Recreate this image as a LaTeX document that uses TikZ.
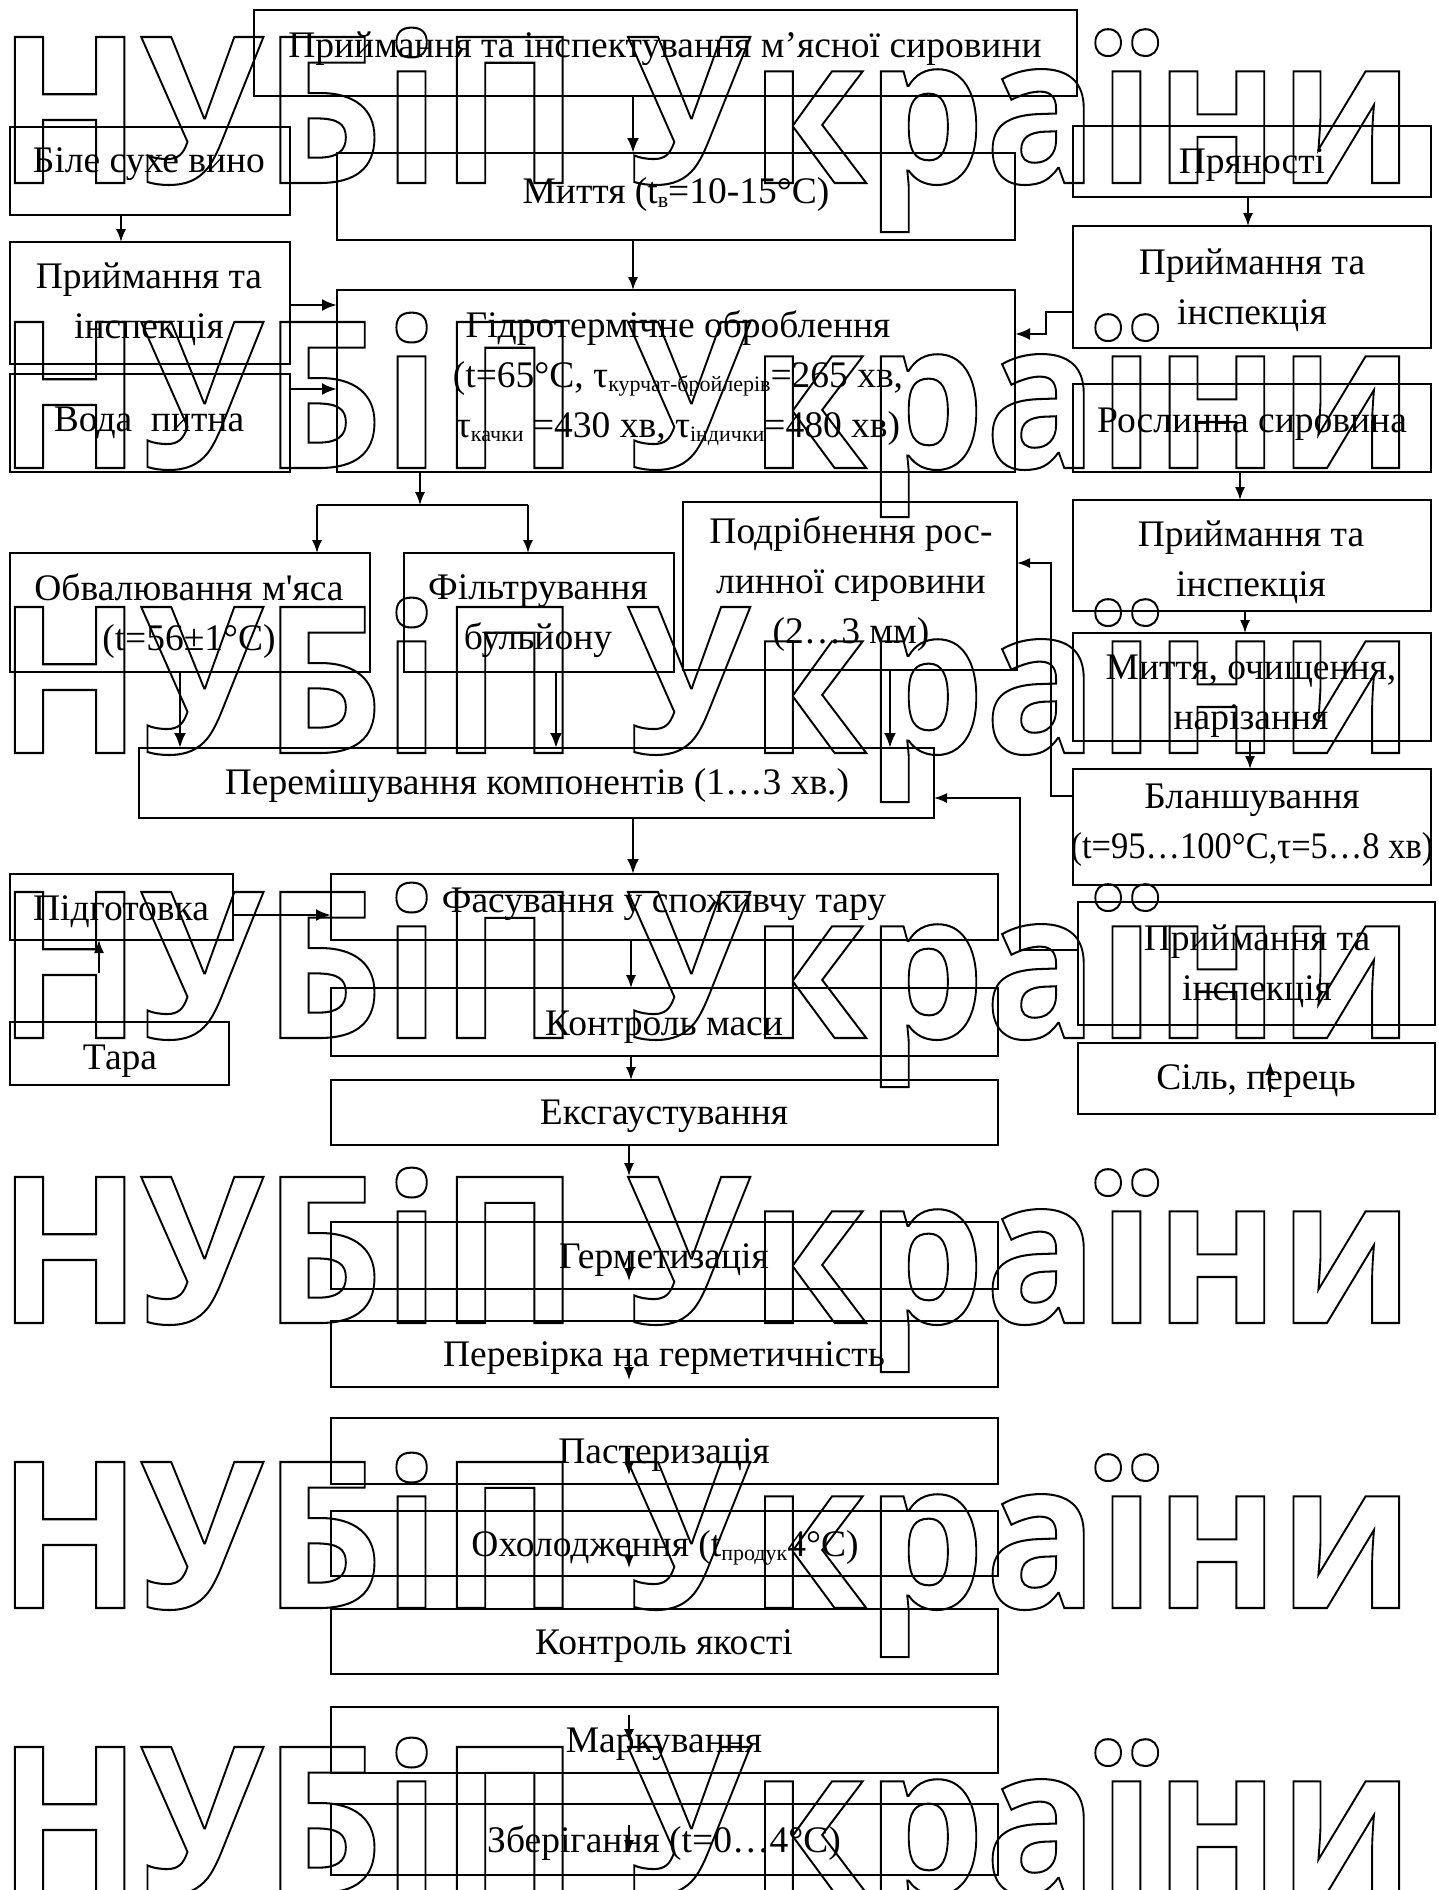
\documentclass[tikz,border=0pt]{standalone}
\usepackage{fontspec}
\setmainfont{Liberation Serif}[Ligatures=TeXOff]
\newfontfamily\wmfont{Open Sans}[Ligatures=TeXOff]
\usetikzlibrary{arrows.meta,fit}
\newcommand\sbs[1]{\raisebox{-0.12em}{\fontsize{22}{22}\selectfont #1}}
\newsavebox\wmbox
\newlength\wmcap
\newlength\wmwd
\tikzset{
  box/.style={draw, line width=1.6pt, inner sep=0pt, outer sep=0pt},
  txt/.style={inner sep=0pt, align=center, yshift=-4pt, font=\fontsize{37.5}{50}\selectfont},
  ar/.style={line width=1.6pt, -{Latex[length=13pt,width=10pt]}},
  art/.style={line width=2.6pt, -{Latex[length=15pt,width=12pt]}},
  ln/.style={line width=1.6pt},
  wm/.style={inner sep=0pt, outer sep=0pt, anchor=base west},
}
\begin{document}%
\sbox\wmbox{\wmfont\bfseries\fontsize{200}{200}\selectfont НУБіП України}%
\settoheight\wmcap{\wmfont\bfseries\fontsize{200}{200}\selectfont Н}%
\setlength\wmwd{\wd\wmbox}%
\pgfmathsetmacro\wmxs{1416/\wmwd}%
\pgfmathsetmacro\wmys{146/\wmcap}%
\begin{tikzpicture}[x=1pt,y=-1pt]
\useasboundingbox (0,0) rectangle (1439,1890);
% ---------- boxes ----------
\node[box, fit={(254,10)(1077,96)}] (B1) {};
\node[box, fit={(337,153)(1015,240)}] (B2) {};
\node[box, fit={(10,127)(290,215)}] (B3) {};
\node[box, fit={(10,242)(290,364)}] (B4) {};
\node[box, fit={(10,374)(290,472)}] (B5) {};
\node[box, fit={(337,290)(1015,472)}] (B6) {};
\node[box, fit={(1073,126)(1431,197)}] (B7) {};
\node[box, fit={(1073,226)(1431,348)}] (B8) {};
\node[box, fit={(1073,384)(1431,472)}] (B9) {};
\node[box, fit={(1073,500)(1431,611)}] (B10) {};
\node[box, fit={(1073,633)(1431,741)}] (B11) {};
\node[box, fit={(1073,769)(1431,885)}] (B12) {};
\node[box, fit={(683,502)(1017,670)}] (B13) {};
\node[box, fit={(139,748)(934,818)}] (B14) {};
\node[box, fit={(10,553)(370,672)}] (B15) {};
\node[box, fit={(404,553)(674,672)}] (B16) {};
\node[box, fit={(10,874)(233,940)}] (B17) {};
\node[box, fit={(10,1022)(229,1085)}] (B18) {};
\node[box, fit={(331,874)(998,940)}] (B19) {};
\node[box, fit={(331,988)(998,1056)}] (B20) {};
\node[box, fit={(331,1080)(998,1145)}] (B21) {};
\node[box, fit={(331,1222)(998,1289)}] (B22) {};
\node[box, fit={(331,1321)(998,1387)}] (B23) {};
\node[box, fit={(331,1418)(998,1484)}] (B24) {};
\node[box, fit={(331,1511)(998,1576)}] (B25) {};
\node[box, fit={(331,1609)(998,1674)}] (B26) {};
\node[box, fit={(331,1707)(998,1773)}] (B27) {};
\node[box, fit={(331,1804)(998,1875)}] (B28) {};
\node[box, fit={(1078,1043)(1435,1114)}] (B29) {};
\node[box, fit={(1078,902)(1435,1025)}] (B30) {};
% ---------- texts ----------
\node[txt] (t1) at (665,45) {Приймання та інспектування м’ясної сировини};
\node[txt] (t2) at (676,190) {Миття (t\sbs{в}=10-15°C)};
\node[txt] (t3) at (149,160) {Біле сухе вино};
\node[txt] (t4) at (149,300) {Приймання та\\інспекція};
\node[txt] (t5) at (149,419) {Вода\ \ питна};
\node[txt] (t6) at (678,374) {Гідротермічне оброблення\\(t=65°C, τ\sbs{курчат-бройлерів}=265 хв,\\τ\sbs{качки} =430 хв, τ\sbs{індички}=480 хв)};
\node[txt] (t7) at (1252,161) {Пряності};
\node[txt] (t8) at (1252,286) {Приймання та\\інспекція};
\node[txt] (t9) at (1252,420) {Рослинна сировина};
\node[txt] (t10) at (1251,558) {Приймання та\\інспекція};
\node[txt] (t11) at (1251,692) {Миття, очищення,\\нарізання};
\node[txt] (t12) at (1252,821) {Бланшування\\\scalebox{0.92}[1]{(t=95…100°C,τ=5…8 хв)}};
\node[txt] (t13) at (851,580) {Подрібнення рос-\\линної сировини\\(2…3 мм)};
\node[txt] (t14) at (537,782) {Перемішування компонентів (1…3 хв.)};
\node[txt] (t15) at (189,612) {Обвалювання м'яса\\(t=56±1°С)};
\node[txt] (t16) at (538,612) {Фільтрування\\бульйону};
\node[txt] (t17) at (121,908) {Підготовка};
\node[txt] (t18) at (120,1057) {Тара};
\node[txt] (t19) at (664,900) {Фасування у споживчу тару};
\node[txt] (t20) at (664,1023) {Контроль маси};
\node[txt] (t21) at (664,1112) {Ексгаустування};
\node[txt] (t22) at (664,1256) {Герметизація};
\node[txt] (t23) at (664,1354) {Перевірка на герметичність};
\node[txt] (t24) at (664,1451) {Пастеризація};
\node[txt] (t25) at (665,1544) {Охолодження (t\sbs{продук}4°С)};
\node[txt] (t26) at (664,1642) {Контроль якості};
\node[txt] (t27) at (664,1740) {Маркування};
\node[txt] (t28) at (664,1839) {Зберігання (t=0…4°С)};
\node[txt] (t29) at (1256,1077) {Сіль, перець};
\node[txt] (t30) at (1257,962) {Приймання та\\інспекція};
% ---------- connectors ----------
\draw[art] (633,0 |- B1.south) -- (633,0 |- B2.north);
\draw[ar] (633,0 |- B2.south) -- (633,0 |- B6.north);
\draw[ar] (121,0 |- B3.south) -- (121,0 |- B4.north);
\draw[art] (B4.east |- 0,305) -- (B6.west |- 0,305);
\draw[art] (B5.east |- 0,389) -- (B6.west |- 0,389);
\draw[ar] (1248,0 |- B7.south) -- (1248,0 |- B8.north);
\draw[art] (B8.west |- 0,312) -- (1046,312) -- (1046,334) -- (B6.east |- 0,334);
\draw[ar] (1240,0 |- B9.south) -- (1240,0 |- B10.north);
\draw[ar] (1245,0 |- B10.south) -- (1245,0 |- B11.north);
\draw[ar] (1250,0 |- B11.south) -- (1250,0 |- B12.north);
\coordinate (sp) at (420,505);
\coordinate (sL) at (317,505);
\coordinate (sR) at (528,505);
\draw[ar] (sp |- B6.south) -- (sp);
\draw[ln] (sL) -- (sR);
\draw[ar] (sL) -- (sL |- B15.north);
\draw[ar] (sR) -- (sR |- B16.north);
\draw[ar] (B12.west |- 0,796) -- (1051,796) -- (1051,563) -- (B13.east |- 0,563);
\draw[art] (180,0 |- B15.south) -- (180,0 |- B14.north);
\draw[art] (556,0 |- B16.south) -- (556,0 |- B14.north);
\draw[art] (890,0 |- B13.south) -- (890,0 |- B14.north);
\draw[ar] (B30.west |- 0,950) -- (1020,950) -- (1020,798) -- (B14.east |- 0,798);
\draw[art] (633,0 |- B14.south) -- (633,0 |- B19.north);
\draw[art] (B17.east |- 0,915) -- (B19.west |- 0,915);
\coordinate (tu) at (99,973);
\draw[ar] (tu) -- (tu |- B17.south);
\draw[ar] (631,0 |- B19.south) -- (631,0 |- B20.north);
\draw[ar] (631,0 |- B20.south) -- (631,0 |- B21.north);
\coordinate (e21) at (629,1176);
\draw[ar] (e21 |- B21.south) -- (e21);
\coordinate (f1s) at (629,1251); \coordinate (f1e) at (629,1281);
\coordinate (f2s) at (629,1352); \coordinate (f2e) at (629,1380);
\coordinate (f3s) at (629,1448); \coordinate (f3e) at (629,1475);
\coordinate (f4s) at (629,1541); \coordinate (f4e) at (629,1568);
\coordinate (f5s) at (629,1715); \coordinate (f5e) at (629,1742);
\coordinate (f6s) at (629,1825); \coordinate (f6e) at (629,1853);
\draw[ar] (f1s) -- (f1e);
\draw[ar] (f2s) -- (f2e);
\draw[ar] (f3s) -- (f3e);
\draw[ar] (f4s) -- (f4e);
\draw[ar] (f5s) -- (f5e);
\draw[ar] (f6s) -- (f6e);
\coordinate (sa) at (1270,1092); \coordinate (sb) at (1270,1062);
\draw[ar] (sa) -- (sb);
% ---------- watermark ----------
\foreach \k [count=\i] in {0,...,6} {
  \node[wm] (wm\i) at (-2,{183+285*\k}) {\special{pdf:literal direct 1 Tr 2 w}\scalebox{\wmxs}[\wmys]{\usebox\wmbox}\special{pdf:literal direct 0 Tr}};
}
\end{tikzpicture}
\end{document}
